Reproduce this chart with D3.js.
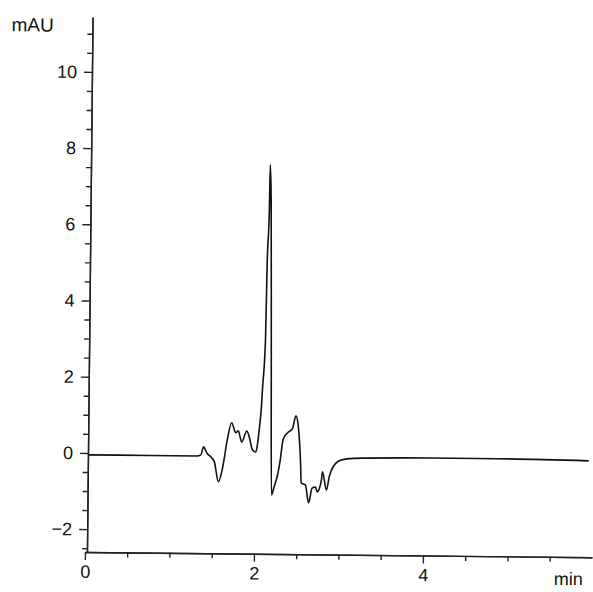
<!DOCTYPE html>
<html>
<head>
<meta charset="utf-8">
<script src="https://cdn.jsdelivr.net/npm/d3@7/dist/d3.min.js"></script>
<style>
  html, body { margin: 0; padding: 0; background: #fff; }
  svg { display: block; }
  text { font-family: "Liberation Sans", Arial, sans-serif; fill: #111; }
</style>
</head>
<body>
<script>
// Chromatogram trace: retention time (min) vs absorbance (mAU)
const timeMin = [0.03, 0.76, 1.31, 1.36, 1.39, 1.43, 1.49, 1.52, 1.57, 1.62, 1.67, 1.72, 1.77, 1.80,
  1.84, 1.90, 1.93, 1.97, 2.01, 2.03, 2.05, 2.07, 2.08, 2.11, 2.12, 2.14, 2.145, 2.16, 2.18, 2.20,
  2.23, 2.27, 2.30, 2.33, 2.38, 2.44, 2.48, 2.51, 2.54, 2.55, 2.60, 2.64, 2.68, 2.72, 2.74, 2.79,
  2.80, 2.85, 2.88, 2.94, 3.03, 3.17, 3.31, 4.09, 4.87, 5.95];
const absorbance = [-0.05, -0.05, -0.05, -0.02, 0.19, 0.03, -0.10, -0.20, -0.72, -0.33, 0.38, 0.83, 0.57, 0.62,
  0.33, 0.62, 0.46, 0.12, 0.07, 0.31, 0.73, 1.25, 1.70, 3.02, 4.93, 6.43, 7.61, 6.69, 2.75, -1.05,
  -0.84, -0.52, -0.13, 0.40, 0.58, 0.69, 1.03, 0.74, -0.20, -0.73, -0.78, -1.25, -0.86, -0.83, -0.96, -0.64,
  -0.43, -0.91, -0.57, -0.25, -0.11, -0.07, -0.06, -0.04, -0.04, -0.07];

// Axis ticks
const yMajorTicks = [-2, 0, 2, 4, 6, 8, 10];
const yMinorTicks = [-2.5, -1.5, -1, -0.5, 0.5, 1, 1.5, 2.5, 3, 3.5, 4.5, 5, 5.5, 6.5, 7, 7.5, 8.5, 9, 9.5, 10.5, 11];
const xMajorTicks = [0, 2, 4];
const xMinorTicks = [0.5, 1, 1.5, 2.5, 3, 3.5, 4.5, 5, 5.5];
const yUnit = "mAU";
const xUnit = "min";

const W = 593, H = 592;
const svg = d3.select("body").append("svg").attr("width", W).attr("height", H);

// the printed trace sits slightly skewed on the page
const g = svg.append("g").attr("transform", "rotate(0.6,88,453)");

const x = d3.scaleLinear().domain([0, 6]).range([86, 593]);
const y = d3.scaleLinear().domain([-2.6, 11.44]).range([552, 17]);
const axisX = 88, axisY = 552;

// y axis: minor ticks, then labelled major ticks
g.append("g").attr("transform", `translate(${axisX},0)`)
  .call(d3.axisLeft(y).tickValues(yMinorTicks).tickSize(5).tickSizeOuter(0).tickFormat(""));
g.append("g").attr("transform", `translate(${axisX},0)`)
  .call(d3.axisLeft(y).tickValues(yMajorTicks).tickSize(8).tickSizeOuter(0).tickPadding(7)
    .tickFormat(d3.format("d")));

// x axis
g.append("g").attr("transform", `translate(0,${axisY})`)
  .call(d3.axisBottom(x).tickValues(xMinorTicks).tickSize(5).tickSizeOuter(0).tickFormat(""));
g.append("g").attr("transform", `translate(0,${axisY})`)
  .call(d3.axisBottom(x).tickValues(xMajorTicks).tickSize(8).tickSizeOuter(0).tickPadding(5)
    .tickFormat(d3.format("d")));

g.selectAll(".domain").attr("stroke", "#222").attr("stroke-width", 1.4);
g.selectAll(".tick line").attr("stroke", "#222").attr("stroke-width", 1.4);
g.selectAll(".tick text").attr("font-size", 18).attr("fill", "#111")
  .style("font-family", "'Liberation Sans', Arial, sans-serif");

// units
g.append("text").attr("x", 7).attr("y", 32).attr("font-size", 19).text(yUnit);
g.append("text").attr("x", 555).attr("y", 580).attr("font-size", 18).text(xUnit);

// trace
const pts = timeMin.map((t, i) => [t, absorbance[i]]);
const line = d3.line().x(d => x(d[0])).y(d => y(d[1])).curve(d3.curveMonotoneX);
g.append("path").datum(pts)
  .attr("d", line)
  .attr("fill", "none")
  .attr("stroke", "#111")
  .attr("stroke-width", 1.6)
  .attr("stroke-linejoin", "round");
</script>
</body>
</html>
